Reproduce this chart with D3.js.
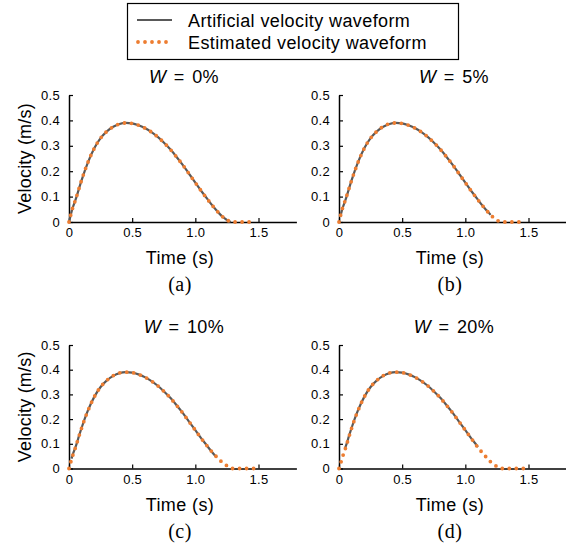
<!DOCTYPE html>
<html>
<head>
<meta charset="utf-8">
<script src="https://cdn.jsdelivr.net/npm/d3@7"></script>
<style>
  body { margin: 0; background: #fff; }
  svg text { font-family: "Liberation Sans", Arial, Helvetica, sans-serif; fill: #000; }
</style>
</head>
<body>
<svg id="chart" width="566" height="549"></svg>
<script>
// ---- data -------------------------------------------------------------
// Artificial velocity waveform (time in s, velocity in m/s)
const artTime = [0, 0.01, 0.02, 0.03, 0.05, 0.06, 0.08, 0.10, 0.15, 0.20, 0.25, 0.30, 0.35, 0.40, 0.45,
                 0.50, 0.55, 0.60, 0.65, 0.70, 0.75, 0.80, 0.85, 0.90, 0.95, 1.00, 1.05, 1.09, 1.10,
                 1.15, 1.17, 1.20, 1.22, 1.25, 1.28];
const artVel  = [0, 0.020, 0.040, 0.057, 0.085, 0.100, 0.133, 0.165, 0.235, 0.290, 0.330, 0.357, 0.375, 0.386, 0.390,
                 0.388, 0.381, 0.370, 0.355, 0.336, 0.313, 0.287, 0.257, 0.225, 0.190, 0.155, 0.120, 0.094, 0.087,
                 0.056, 0.045, 0.028, 0.019, 0.008, 0.000];

// Estimated velocity waveforms, one per window width W
const estTime = [0, 0.01, 0.02, 0.03, 0.05, 0.08, 0.10, 0.15, 0.20, 0.25, 0.30, 0.35, 0.40, 0.45, 0.50,
                 0.55, 0.60, 0.65, 0.70, 0.75, 0.80, 0.85, 0.90, 0.95, 1.00, 1.05, 1.10, 1.15, 1.20,
                 1.25, 1.29, 1.35, 1.40, 1.47];
const estVelW0  = [0, 0.020, 0.040, 0.057, 0.085, 0.133, 0.165, 0.235, 0.290, 0.330, 0.357, 0.375, 0.386, 0.390, 0.388,
                   0.381, 0.370, 0.355, 0.336, 0.313, 0.287, 0.257, 0.225, 0.190, 0.155, 0.120, 0.087, 0.056, 0.028,
                   0.008, 0, 0, 0, 0];
const estVelW5  = [0, 0.021, 0.041, 0.058, 0.086, 0.133, 0.164, 0.234, 0.290, 0.330, 0.357, 0.376, 0.387, 0.390, 0.388,
                   0.381, 0.370, 0.355, 0.336, 0.313, 0.287, 0.257, 0.225, 0.190, 0.155, 0.120, 0.087, 0.056, 0.028,
                   0.007, 0, 0, 0, 0];
const estVelW10 = [0, 0.018, 0.037, 0.053, 0.083, 0.132, 0.164, 0.234, 0.290, 0.330, 0.357, 0.376, 0.387, 0.390, 0.388,
                   0.381, 0.370, 0.355, 0.336, 0.313, 0.287, 0.257, 0.225, 0.190, 0.155, 0.120, 0.087, 0.057, 0.031,
                   0.011, 0, 0, 0, 0];
const estVelW20 = [0, 0.015, 0.033, 0.050, 0.080, 0.130, 0.163, 0.234, 0.290, 0.330, 0.357, 0.376, 0.387, 0.390, 0.388,
                   0.381, 0.370, 0.355, 0.336, 0.313, 0.287, 0.257, 0.225, 0.190, 0.155, 0.120, 0.085, 0.055, 0.027,
                   0.008, 0, 0, 0, 0];

const windowPct   = [0, 5, 10, 20];
const panelLetter = ["(a)", "(b)", "(c)", "(d)"];
const estSeries   = [estVelW0, estVelW5, estVelW10, estVelW20];

const yTicks = [0, 0.1, 0.2, 0.3, 0.4, 0.5];
const xTicks = [0, 0.5, 1.0, 1.5];

const legendLabels = ["Artificial velocity waveform", "Estimated velocity waveform"];

// ---- layout -----------------------------------------------------------
const panels = [
  { x0: 69,  yBase: 222,   yTop: 95  },
  { x0: 339, yBase: 222,   yTop: 95  },
  { x0: 69,  yBase: 468.5, yTop: 345 },
  { x0: 339, yBase: 468.5, yTop: 345 }
];
const axisWidth = 227.4;
const artColor = "#595959";
const estColor = "#ED7D31";
const dotDash = "0 7";

const svg = d3.select("#chart");
const fmt = d => d === 0 ? "0" : d3.format(".1f")(d);
const peak = d3.max(artVel);

panels.forEach((p, i) => {
  const g = svg.append("g");
  const x = d3.scaleLinear().domain([0, 1.8]).range([p.x0, p.x0 + axisWidth]);
  const y = d3.scaleLinear().domain([0, 0.5]).range([p.yBase, p.yTop]);

  // x axis
  const gx = g.append("g")
    .attr("transform", `translate(0,${p.yBase})`)
    .call(d3.axisBottom(x).tickValues(xTicks).tickFormat(fmt).tickSize(-4).tickSizeOuter(0).tickPadding(6));
  // y axis
  const gy = g.append("g")
    .attr("transform", `translate(${p.x0},0)`)
    .call(d3.axisLeft(y).tickValues(yTicks).tickFormat(fmt).tickSize(-4).tickSizeOuter(0).tickPadding(9));
  [gx, gy].forEach(a => {
    a.select(".domain").attr("stroke", "#000").attr("stroke-width", 1.5);
    a.selectAll(".tick line").attr("stroke", "#000").attr("stroke-width", 1.2);
    a.selectAll(".tick text").attr("font-size", 13).attr("font-family", "Liberation Sans, Arial, sans-serif")
      .attr("fill", "#000").style("letter-spacing", "0.3px");
  });

  // artificial waveform: the part above W % of its peak
  const thr = windowPct[i] / 100 * peak;
  const artPts = artTime.map((t, k) => [t, artVel[k]]).filter(d => windowPct[i] === 0 || d[1] >= thr);
  const line = d3.line().x(d => x(d[0])).y(d => y(d[1])).curve(d3.curveMonotoneX);
  g.append("path").datum(artPts).attr("d", line)
    .attr("fill", "none").attr("stroke", artColor).attr("stroke-width", 2.2);

  // estimated waveform, round-dot line
  const estPts = estTime.map((t, k) => [t, estSeries[i][k]]);
  g.append("path").datum(estPts).attr("d", line)
    .attr("fill", "none").attr("stroke", estColor).attr("stroke-width", 3.8)
    .attr("stroke-linecap", "round").attr("stroke-dasharray", dotDash);

  // title
  const cx = p.x0 + 111;
  const title = g.append("text").attr("x", cx + 4).attr("y", p.yTop - 12)
    .attr("text-anchor", "middle").attr("font-size", 18).style("letter-spacing", "0.4px")
    .style("word-spacing", "2px");
  title.append("tspan").attr("font-style", "italic").text("W");
  title.append("tspan").text(` = ${windowPct[i]}%`);

  // x label
  g.append("text").attr("x", cx).attr("y", p.yBase + 42)
    .attr("text-anchor", "middle").attr("font-size", 18).style("letter-spacing", "0.4px")
    .text("Time (s)");
  // panel letter
  g.append("text").attr("x", cx).attr("y", p.yBase + 69)
    .attr("text-anchor", "middle").attr("font-size", 20).style("letter-spacing", "0.5px")
    .style("font-family", "'Liberation Serif', 'Times New Roman', serif")
    .text(panelLetter[i]);

  // y label, left column only
  if (i % 2 === 0) {
    g.append("text")
      .attr("transform", `translate(31,${(p.yBase + p.yTop) / 2}) rotate(-90)`)
      .attr("text-anchor", "middle").attr("font-size", 18).style("letter-spacing", "0.2px")
      .text("Velocity (m/s)");
  }
});

// legend
const lg = svg.append("g");
lg.append("rect").attr("x", 127.5).attr("y", 3.5).attr("width", 331).attr("height", 56)
  .attr("fill", "#fff").attr("stroke", "#000").attr("stroke-width", 1.2);
lg.append("line").attr("x1", 137).attr("x2", 172).attr("y1", 20).attr("y2", 20)
  .attr("stroke", artColor).attr("stroke-width", 2.2);
lg.append("line").attr("x1", 138).attr("x2", 172).attr("y1", 42).attr("y2", 42)
  .attr("stroke", estColor).attr("stroke-width", 3.8).attr("stroke-linecap", "round")
  .attr("stroke-dasharray", dotDash);
legendLabels.forEach((s, k) => {
  lg.append("text").attr("x", 188).attr("y", 26.5 + k * 22).attr("font-size", 18)
    .style("letter-spacing", "0.4px").text(s);
});
</script>
</body>
</html>
